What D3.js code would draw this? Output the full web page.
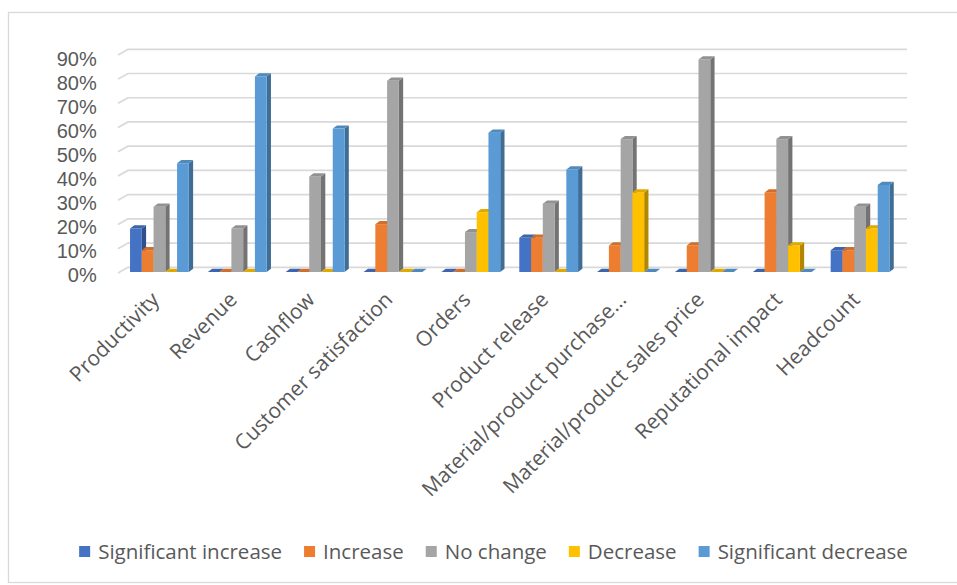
<!DOCTYPE html>
<html>
<head>
<meta charset="utf-8">
<script src="https://cdn.jsdelivr.net/npm/d3@7"></script>
<style>
  html, body { margin: 0; padding: 0; background: #fff; }
  svg { display: block; }
  text { font-family: "Open Sans", "Noto Sans", sans-serif; fill: #595959; }
</style>
</head>
<body>
<svg id="chart" width="957" height="585"></svg>
<script>
// ---- data ----
const categories = ["Productivity", "Revenue", "Cashflow", "Customer satisfaction", "Orders",
  "Product release", "Material/product purchase…", "Material/product sales price",
  "Reputational impact", "Headcount"];
const seriesNames = ["Significant increase", "Increase", "No change", "Decrease", "Significant decrease"];
const significantIncrease = [0.182, 0, 0, 0, 0, 0.143, 0, 0, 0, 0.091];
const increase            = [0.091, 0, 0, 0.2, 0, 0.143, 0.111, 0.111, 0.333, 0.091];
const noChange            = [0.273, 0.182, 0.4, 0.8, 0.167, 0.286, 0.556, 0.889, 0.556, 0.273];
const decrease            = [0, 0, 0, 0, 0.25, 0, 0.333, 0, 0.111, 0.182];
const significantDecrease = [0.455, 0.818, 0.6, 0, 0.583, 0.429, 0, 0, 0, 0.364];
const yTicks = [0, 0.1, 0.2, 0.3, 0.4, 0.5, 0.6, 0.7, 0.8, 0.9];
const colors = ["#4472C4", "#ED7D31", "#A5A5A5", "#FFC000", "#5B9BD5"];

const seriesValues = [significantIncrease, increase, noChange, decrease, significantDecrease];

// ---- layout ----
const svg = d3.select("#chart");
svg.append("rect").attr("x", 0).attr("y", 0).attr("width", 957).attr("height", 585).attr("fill", "#fff");
svg.append("rect").attr("x", 8.5).attr("y", 12.5).attr("width", 960).attr("height", 570)
  .attr("fill", "none").attr("stroke", "#D9D9D9").attr("stroke-width", 1.3);

const backLeft = 128, backRight = 907, depthDx = 10, depthDy = 5.6;
const yBack = d3.scaleLinear().domain([0, 0.9]).range([267.3, 49.3]);
const yFront = d3.scaleLinear().domain([0, 0.9]).range([272, 272 - 0.9 * 239]);
const yLab = d3.scaleLinear().domain([0, 0.9]).range([274.5, 58.5]);

const x0 = d3.scaleBand().domain(categories).range([120.5, 899]).paddingInner(0.245).paddingOuter(0.1225);
const x1 = d3.scaleBand().domain(seriesNames).range([0, x0.bandwidth()]).padding(0);

// gridlines (back wall + left side wall edge)
const grid = svg.append("g");
yTicks.forEach(v => {
  const y = yBack(v);
  grid.append("path")
    .attr("d", `M${backLeft - depthDx},${y + depthDy} L${backLeft},${y} L${backRight},${y}`)
    .attr("fill", "none").attr("stroke", "#D9D9D9").attr("stroke-width", 1.7);
});

// y labels
const fmt = d3.format(".0%");
svg.append("g").selectAll("text").data(yTicks).join("text")
  .attr("x", 96.7).attr("y", d => yLab(d)).attr("dy", "0.36em")
  .attr("text-anchor", "end")
  .style("font-family", "'Liberation Sans', Arial, sans-serif")
  .style("font-size", "20px")
  .text(d => fmt(d));

// bars (3D)
const bdx = 4.3, bdy = -3.2;
const bars = svg.append("g");
categories.forEach((cat, ci) => {
  seriesNames.forEach((s, si) => {
    const v = seriesValues[si][ci];
    const x = x0(cat) + x1(s), w = x1.bandwidth();
    const yt = yFront(v), yb = yFront(0);
    const c = d3.color(colors[si]);
    const g = bars.append("g");
    // side
    g.append("path")
      .attr("d", `M${x + w},${yt} L${x + w + bdx},${yt + bdy} L${x + w + bdx},${yb + bdy} L${x + w},${yb} Z`)
      .attr("fill", c.darker(1.0).toString());
    // front
    if (v > 0) {
      g.append("rect").attr("x", x).attr("y", yt).attr("width", w).attr("height", yb - yt)
        .attr("fill", colors[si]);
    }
    // top
    g.append("path")
      .attr("d", `M${x},${yt} L${x + bdx},${yt + bdy} L${x + w + bdx},${yt + bdy} L${x + w},${yt} Z`)
      .attr("fill", c.darker(0.35).toString());
  });
});

// category labels
svg.append("g").selectAll("text").data(categories).join("text")
  .attr("transform", d => `translate(${x0(d) + x0.bandwidth() / 2 + 1},301) rotate(-45)`)
  .attr("text-anchor", "end").style("font-size", "21px")
  .text(d => d);

// legend
const legend = svg.append("g");
const items = seriesNames.map((s, i) => {
  const g = legend.append("g");
  g.append("rect").attr("x", 0).attr("y", -5.5).attr("width", 11).attr("height", 11).attr("fill", colors[i]);
  const t = g.append("text").attr("x", 19).attr("y", 0).attr("dy", "0.36em").style("font-size", "20.5px").text(s);
  return { g, w: 19 + t.node().getComputedTextLength() };
});
const gap = 22;
const total = d3.sum(items, d => d.w) + gap * (items.length - 1);
let lx = 493.5 - total / 2;
items.forEach(it => {
  it.g.attr("transform", `translate(${lx},551.5)`);
  lx += it.w + gap;
});
</script>
</body>
</html>
